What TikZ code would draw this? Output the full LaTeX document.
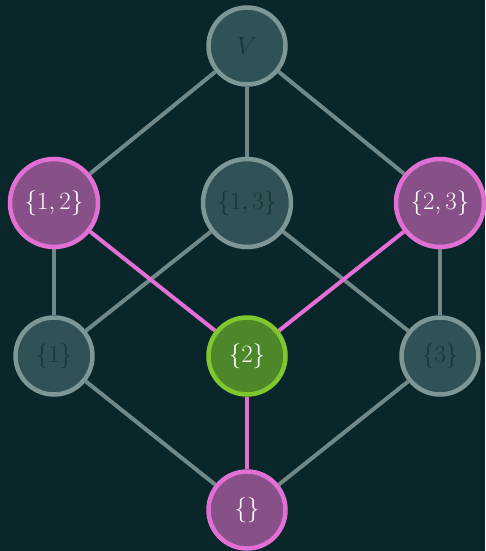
\documentclass[tikz,border=0pt]{standalone}
\usepackage{amsmath,amssymb}
\usepackage{tikz}
\usepackage{xcolor}
\usetikzlibrary{backgrounds}
\definecolor{bgteal}{RGB}{9,38,42}
\definecolor{setgray}{RGB}{48,82,86}
\definecolor{rimgray}{RGB}{125,150,150}
\definecolor{txtgray}{RGB}{28,52,56}
\definecolor{setpurple}{RGB}{136,80,136}
\definecolor{rimpink}{RGB}{226,112,212}
\definecolor{setgreen}{RGB}{76,136,42}
\definecolor{rimgreen}{RGB}{126,200,46}
\definecolor{edgegray}{RGB}{112,136,136}

\begin{document}
\begin{tikzpicture}[x=1pt,y=-1pt,
  setnode/.style={circle,draw,line width=4.5pt,inner sep=0pt,font=\fontsize{26}{31}\selectfont},
  big/.style={minimum size=88pt},
  small/.style={minimum size=77pt},
  plain/.style={setnode,fill=setgray,draw=rimgray,text=txtgray},
  picked/.style={setnode,fill=setpurple,draw=rimpink,text=white},
  meet/.style={setnode,fill=setgreen,draw=rimgreen,text=white},
  link/.style={line width=4pt,edgegray},
  hot/.style={line width=4pt,rimpink}]
\useasboundingbox (0,0) rectangle (485,551);
\node[plain,small] (V) at (247,46) {$V$};
\node[picked,big] (s12) at (54,203) {$\{1,2\}$};
\node[plain,big] (s13) at (247,203) {$\{1,3\}$};
\node[picked,big] (s23) at (440,203) {$\{2,3\}$};
\node[plain,small] (s1) at (54,356) {$\{1\}$};
\node[meet,small] (s2) at (247,356) {$\{2\}$};
\node[plain,small] (s3) at (440,356) {$\{3\}$};
\node[picked,small] (s0) at (247,510) {$\{\}$};
\begin{pgfonlayer}{background}
\fill[bgteal] (0,0) rectangle (485,551);
\foreach \a/\b in {V/s12,V/s13,V/s23,s12/s1,s13/s1,s13/s3,s23/s3,s1/s0,s3/s0}{\draw[link] (\a) -- (\b);}
\foreach \a/\b in {s12/s2,s23/s2,s2/s0}{\draw[hot] (\a) -- (\b);}
\end{pgfonlayer}
\end{tikzpicture}
\end{document}
